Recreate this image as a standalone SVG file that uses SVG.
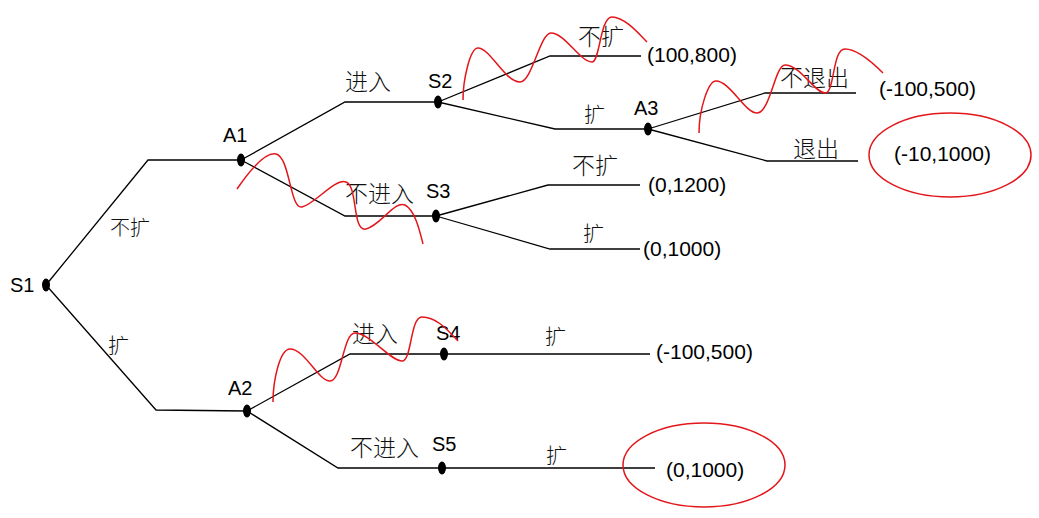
<svg xmlns="http://www.w3.org/2000/svg" width="1039" height="518" viewBox="0 0 1039 518">
<style>
.e{fill:none;stroke:#000;stroke-width:1.3}
.d{fill:#000}
.n{font-family:"Liberation Sans",Arial,sans-serif;font-size:20px;fill:#000}
.p{font-family:"Liberation Sans",Arial,sans-serif;font-size:21px;fill:#000}
.c{font-family:"Noto Sans CJK SC","Noto Sans CJK JP",sans-serif;font-size:23px;fill:#111;font-weight:300}
.r{fill:none;stroke:#e3161b;stroke-width:1.5}
</style>
<rect width="1039" height="518" fill="#fff"/>
<g id="connectors">
<polyline class="e" points="46,285 148,160 241,160"/>
<polyline class="e" points="46,285 156,410 247,411"/>
<polyline class="e" points="241,160 345,102 438,102"/>
<polyline class="e" points="241,160 345,216 436,216"/>
<polyline class="e" points="438,102 550,56 641,56"/>
<polyline class="e" points="438,102 555,129 648,129"/>
<polyline class="e" points="648,129 765,93 856,93"/>
<polyline class="e" points="648,129 767,161 858,161"/>
<polyline class="e" points="436,216 548,185 640,185"/>
<polyline class="e" points="436,216 550,249 640,249"/>
<polyline class="e" points="247,411 350,354 650,354"/>
<polyline class="e" points="247,411 338,468 655,468"/>
<text class="c" x="110" y="235" style="font-size:20px">不扩</text>
<text class="c" x="108" y="353" style="font-size:21px">扩</text>
<text class="c" x="345" y="90">进入</text>
<text class="c" x="345" y="202">不进入</text>
<text class="c" x="578" y="45">不扩</text>
<text class="c" x="584" y="122" style="font-size:21px">扩</text>
<text class="c" x="780" y="86">不退出</text>
<text class="c" x="793" y="157">退出</text>
<text class="c" x="572" y="174">不扩</text>
<text class="c" x="583" y="241" style="font-size:21px">扩</text>
<text class="c" x="352" y="342">进入</text>
<text class="c" x="545" y="344" style="font-size:21px">扩</text>
<text class="c" x="350" y="456">不进入</text>
<text class="c" x="546" y="463" style="font-size:21px">扩</text>
</g>
<g id="S1"><ellipse class="d" cx="46" cy="285" rx="4" ry="6.5"/><text class="n" x="10" y="292">S1</text></g>
<g id="A1"><ellipse class="d" cx="241" cy="160" rx="4" ry="6.5"/><text class="n" x="223" y="142">A1</text></g>
<g id="A2"><ellipse class="d" cx="247" cy="411" rx="4" ry="6.5"/><text class="n" x="228" y="395">A2</text></g>
<g id="S2"><ellipse class="d" cx="438" cy="102" rx="4" ry="6.5"/><text class="n" x="428" y="88">S2</text></g>
<g id="S3"><ellipse class="d" cx="436" cy="216" rx="4" ry="6.5"/><text class="n" x="426" y="198">S3</text></g>
<g id="A3"><ellipse class="d" cx="648" cy="129" rx="4" ry="6.5"/><text class="n" x="634" y="115">A3</text></g>
<g id="S4"><ellipse class="d" cx="444" cy="354" rx="4" ry="6.5"/><text class="n" x="436" y="340">S4</text></g>
<g id="S5"><ellipse class="d" cx="442" cy="468" rx="4" ry="6.5"/><text class="n" x="432" y="451">S5</text></g>
<g id="payoffs">
<text class="p" x="647" y="62">(100,800)</text>
<text class="p" x="879" y="96">(-100,500)</text>
<text class="p" x="894" y="161">(-10,1000)</text>
<text class="p" x="648" y="192">(0,1200)</text>
<text class="p" x="643" y="256">(0,1000)</text>
<text class="p" x="656" y="359">(-100,500)</text>
<text class="p" x="666" y="477">(0,1000)</text>
</g>
<g id="marks">
<ellipse class="r" cx="950" cy="155" rx="81" ry="42"/>
<ellipse class="r" cx="704" cy="465" rx="81" ry="42"/>
<path class="r" d="M237,189 C250,170 265,152 276,154 C290,157 290,210 302,207 C315,204 335,178 346,182 C358,186 352,232 366,229 C380,226 395,200 405,205 C415,210 420,232 423,244"/>
<path class="r" d="M463,100 C463,80 470,48 478,48 C490,48 505,82 520,82 C532,82 540,33 551,33 C565,33 580,62 592,62 C600,62 600,17 612,17 C625,17 640,35 647,42"/>
<path class="r" d="M699,133 C699,110 708,81 716,81 C730,81 745,113 757,113 C770,113 775,65 785,65 C800,65 815,93 825,93 C835,93 832,49 845,49 C858,49 875,65 883,73"/>
<path class="r" d="M273,402 C273,380 280,349 290,349 C305,349 318,381 330,381 C342,381 343,333 355,333 C370,333 390,361 402,361 C412,361 410,317 422,317 C438,317 450,333 458,341"/>
</g>
</svg>
